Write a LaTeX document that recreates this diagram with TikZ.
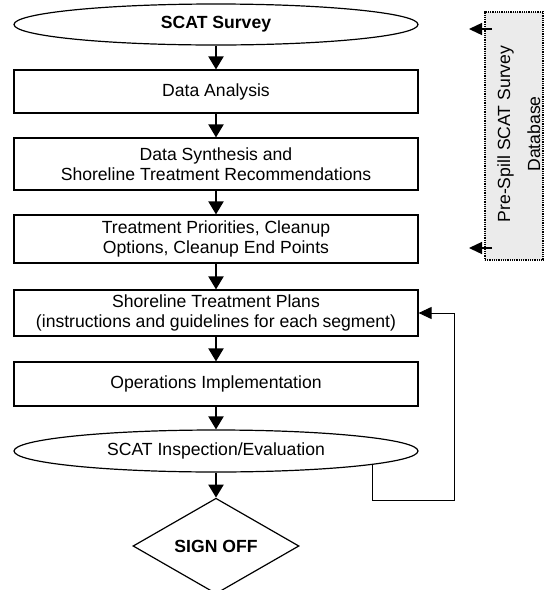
\documentclass[tikz,border=0pt]{standalone}
\usepackage{fontspec}
\setmainfont{Liberation Sans}
\usetikzlibrary{shapes.geometric,arrows.meta}
\begin{document}
\begin{tikzpicture}[x=1pt,y=-1pt,
  every node/.style={font=\fontsize{17.6}{20.5}\selectfont, align=center, inner sep=0pt},
  stepbox/.style={draw, line width=1.2pt, rectangle, minimum width=404pt},
  oval/.style={draw, line width=1.2pt, ellipse, minimum width=404pt},
  gate/.style={draw, line width=1.2pt, diamond, minimum width=166pt, minimum height=88pt},
  flow/.style={line width=2.2pt, -{Triangle[length=13pt,width=15pt]}},
  loopline/.style={line width=1pt, -{Triangle[length=13pt,width=12pt]}},
  dbarrow/.style={line width=1.4pt, -{Triangle[length=13pt,width=12pt]}},
  dbbox/.style={draw, line width=1.3pt, dash pattern=on 1pt off 0.8pt, fill=black!8, rectangle},
  dbtext/.style={rotate=90, anchor=base}]
\useasboundingbox (0,0) rectangle (545,590);

% main chain
\node[oval, minimum height=41pt] (survey) at (216,24.5) {\bfseries SCAT Survey};
\node[stepbox, minimum height=43pt] (anal) at (216,91.5) {Data Analysis};
\node[stepbox, minimum height=52pt] (synth) at (216,164) {Data Synthesis and\\Shoreline Treatment Recommendations};
\node[stepbox, minimum height=48pt] (prio) at (216,239) {Treatment Priorities, Cleanup\\Options, Cleanup End Points};
\node[stepbox, minimum height=46pt] (stp) at (216,313) {Shoreline Treatment Plans\\(instructions and guidelines for each segment)};
\node[stepbox, minimum height=44pt] (ops) at (216,384) {Operations Implementation};
\node[oval, minimum height=42pt] (ins) at (216,451) {SCAT Inspection/Evaluation};
\node[gate] (sign) at (216,546) {\bfseries SIGN OFF};

\draw[flow] (survey) -- (anal);
\draw[flow] (anal) -- (synth);
\draw[flow] (synth) -- (prio);
\draw[flow] (prio) -- (stp);
\draw[flow] (stp) -- (ops);
\draw[flow] (ops) -- (ins);
\draw[flow] (ins) -- (sign);

% feedback loop back to the treatment plans
\coordinate (loop) at (454,500);
\draw[loopline] (ins.-5.45) |- (loop) |- (stp.east);

% pre-spill database panel
\node[dbbox, minimum width=58pt, minimum height=248pt] (db) at (514,136) {};
\node[dbtext] (dbline1) at (510,134) {Pre-Spill SCAT Survey};
\node[dbtext] (dbline2) at (540,134) {Database};
\coordinate (dbin1) at (492,29);
\coordinate (dbout1) at (469,29);
\coordinate (dbin2) at (492,248);
\coordinate (dbout2) at (469,248);
\draw[dbarrow] (dbin1) -- (dbout1);
\draw[dbarrow] (dbin2) -- (dbout2);
\end{tikzpicture}
\end{document}
